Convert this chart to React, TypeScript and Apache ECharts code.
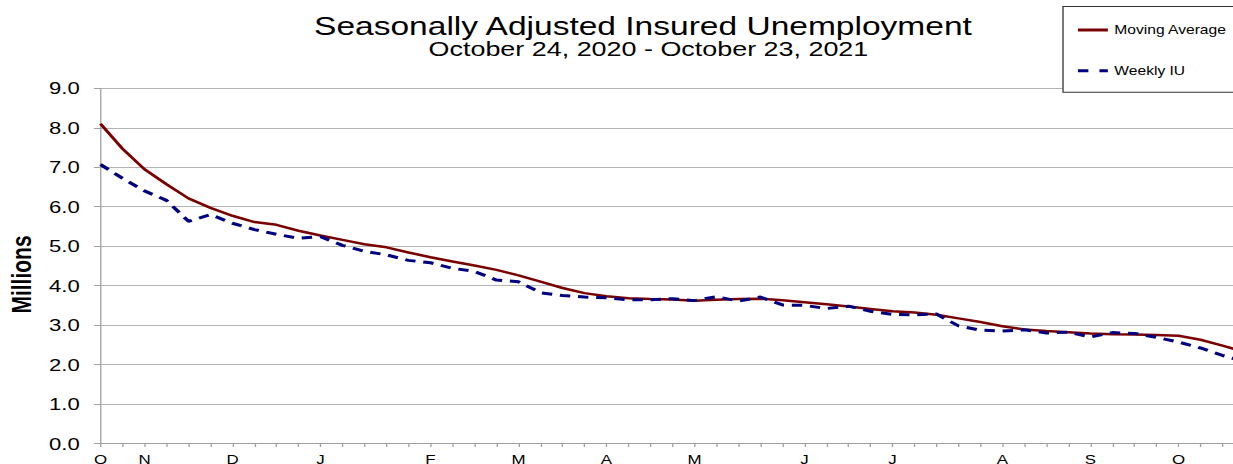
import React, { useEffect, useRef } from "react";
import * as echarts from "echarts";

// Horizontal stretch of the reference (its text and plot are ~1.3x wider than tall)
const STRETCH = 1.3;
const FONT = "'Liberation Sans', Arial, Helvetica, sans-serif";

const weekEnding = [
  "2020-10-24", "2020-10-31", "2020-11-07", "2020-11-14", "2020-11-21", "2020-11-28",
  "2020-12-05", "2020-12-12", "2020-12-19", "2020-12-26", "2021-01-02", "2021-01-09",
  "2021-01-16", "2021-01-23", "2021-01-30", "2021-02-06", "2021-02-13", "2021-02-20",
  "2021-02-27", "2021-03-06", "2021-03-13", "2021-03-20", "2021-03-27", "2021-04-03",
  "2021-04-10", "2021-04-17", "2021-04-24", "2021-05-01", "2021-05-08", "2021-05-15",
  "2021-05-22", "2021-05-29", "2021-06-05", "2021-06-12", "2021-06-19", "2021-06-26",
  "2021-07-03", "2021-07-10", "2021-07-17", "2021-07-24", "2021-07-31", "2021-08-07",
  "2021-08-14", "2021-08-21", "2021-08-28", "2021-09-04", "2021-09-11", "2021-09-18",
  "2021-09-25", "2021-10-02", "2021-10-09", "2021-10-16", "2021-10-23",
];

const tickLabels = [
  "O", "", "N", "", "", "", "D", "", "", "", "J", "", "", "", "", "F", "", "", "",
  "M", "", "", "", "A", "", "", "", "M", "", "", "", "", "J", "", "", "", "J", "",
  "", "", "", "A", "", "", "", "S", "", "", "", "O", "", "", "",
];

const movingAverage = [
  8.10, 7.47, 6.95, 6.57, 6.21, 5.97, 5.77, 5.61, 5.54, 5.39, 5.27, 5.16, 5.05, 4.97,
  4.84, 4.72, 4.61, 4.51, 4.40, 4.26, 4.10, 3.94, 3.81, 3.73, 3.68, 3.66, 3.65, 3.62,
  3.64, 3.66, 3.67, 3.63, 3.58, 3.53, 3.47, 3.41, 3.35, 3.32, 3.26, 3.17, 3.08, 2.97,
  2.89, 2.85, 2.82, 2.79, 2.77, 2.76, 2.75, 2.73, 2.63, 2.48, 2.32,
];

const weeklyIU = [
  7.07, 6.72, 6.40, 6.16, 5.63, 5.80, 5.58, 5.42, 5.30, 5.20, 5.24, 5.02, 4.87, 4.78,
  4.64, 4.58, 4.44, 4.36, 4.14, 4.10, 3.82, 3.75, 3.71, 3.69, 3.64, 3.64, 3.67, 3.62,
  3.72, 3.61, 3.71, 3.51, 3.50, 3.42, 3.48, 3.35, 3.27, 3.26, 3.28, 2.98, 2.87, 2.85,
  2.88, 2.80, 2.82, 2.70, 2.81, 2.79, 2.69, 2.57, 2.42, 2.23, 2.08,
];

const yTicks = { min: 0, max: 9, interval: 1 };

const titleText = "Seasonally Adjusted Insured Unemployment";
const subtitleText = "October 24, 2020 - October 23, 2021";
const yAxisTitle = "Millions";

const INNER_W = 975;
const H = 464;

export default function App() {
  const ref = useRef<HTMLDivElement>(null);

  useEffect(() => {
    const chart = echarts.init(ref.current as HTMLDivElement, null, { renderer: "svg" });
    const option: any = {
      animation: false,
      backgroundColor: "#ffffff",
      grid: {
        left: 77.3,
        right: INNER_W - 77.3 - 880,
        top: 88.3,
        bottom: H - 443.5,
        containLabel: false,
        outerBoundsMode: "none",
      },
      graphic: [
        {
          type: "text",
          x: 494.6,
          y: 26.1,
          style: {
            text: titleText,
            fontSize: 25.8,
            lineHeight: 22,
            fontFamily: FONT,
            fill: "#000",
            align: "center",
            verticalAlign: "middle",
            textAlign: "center",
            textVerticalAlign: "middle",
          },
        },
        {
          type: "text",
          x: 498.8,
          y: 48.4,
          style: {
            text: subtitleText,
            fontSize: 20.7,
            lineHeight: 18,
            fontFamily: FONT,
            fill: "#000",
            align: "center",
            verticalAlign: "middle",
            textAlign: "center",
            textVerticalAlign: "middle",
          },
        },
        {
          type: "text",
          x: 16.2,
          y: 274.5,
          rotation: Math.PI / 2,
          style: {
            text: yAxisTitle,
            fontSize: 21,
            fontWeight: "bold",
            fontFamily: FONT,
            fill: "#000",
            align: "center",
            verticalAlign: "middle",
            textAlign: "center",
            textVerticalAlign: "middle",
          },
        },
      ],
      legend: {
        data: [
          { name: "Moving Average", icon: "path://M0,0h23v3h-23z" },
          { name: "Weekly IU", icon: "path://M0,0h8v3h-8zM16.5,0h6.5v3h-6.5z" },
        ],
        orient: "vertical",
        left: 817.7,
        top: 6.5,
        padding: [16.5, 14, 14.5, 11.5],
        itemGap: 26.7,
        itemWidth: 23,
        itemHeight: 3,
        borderColor: "#333",
        borderWidth: 1,
        backgroundColor: "#fff",
        textStyle: { fontSize: 12, lineHeight: 14, color: "#000", fontFamily: FONT },
      },
      xAxis: {
        type: "category",
        data: weekEnding,
        boundaryGap: false,
        axisLine: { lineStyle: { color: "#a0a0a0", width: 1 } },
        axisTick: { show: true, interval: 0, length: 3.5, lineStyle: { color: "#a0a0a0" } },
        axisLabel: {
          interval: 0,
          margin: 9.5,
          fontSize: 13,
          lineHeight: 13,
          color: "#000",
          fontFamily: FONT,
          formatter: (_v: string, i: number) => tickLabels[i],
        },
        splitLine: { show: false },
      },
      yAxis: {
        type: "value",
        min: yTicks.min,
        max: yTicks.max,
        interval: yTicks.interval,
        axisLine: { show: true, lineStyle: { color: "#a0a0a0", width: 1 } },
        axisTick: { show: true, length: 5, lineStyle: { color: "#a0a0a0" } },
        axisLabel: {
          margin: 16,
          fontSize: 17,
          color: "#000",
          fontFamily: FONT,
          formatter: (v: number) => v.toFixed(1),
        },
        splitLine: { show: true, lineStyle: { color: "#b4b4b4", width: 1 } },
      },
      series: [
        {
          name: "Moving Average",
          type: "line",
          data: movingAverage,
          symbol: "none",
          lineStyle: { color: "#7a0000", width: 2.5 },
          itemStyle: { color: "#7a0000" },
          z: 3,
        },
        {
          name: "Weekly IU",
          type: "line",
          data: weeklyIU,
          symbol: "none",
          lineStyle: { color: "#000080", width: 3, type: [8, 6] },
          itemStyle: { color: "#000080" },
          z: 4,
        },
      ],
    };
    chart.setOption(option);
    return () => chart.dispose();
  }, []);

  return (
    <div
      style={{
        position: "absolute",
        left: 0,
        top: 0,
        width: 1233,
        height: H,
        overflow: "hidden",
        background: "#fff",
      }}
    >
      <div
        ref={ref}
        style={{
          width: INNER_W,
          height: H,
          transform: `scaleX(${STRETCH})`,
          transformOrigin: "0 0",
        }}
      />
    </div>
  );
}
